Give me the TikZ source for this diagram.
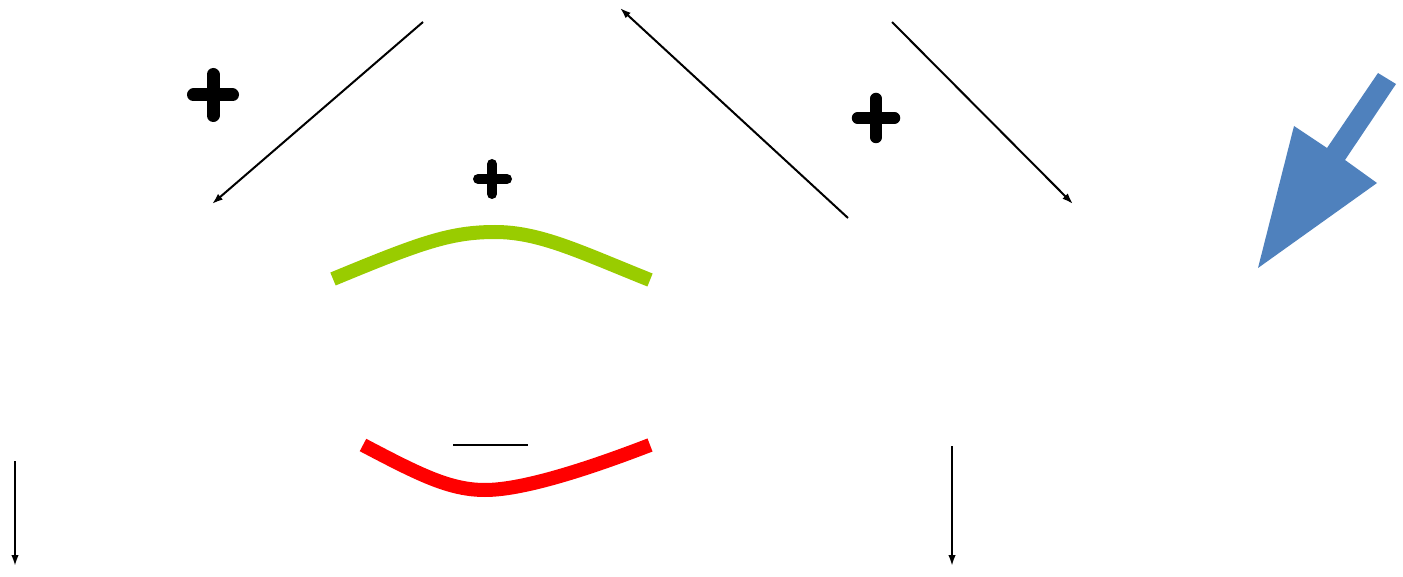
\documentclass[tikz,border=0pt]{standalone}
\usetikzlibrary{arrows.meta}
\definecolor{arrblue}{HTML}{4F81BD}
\definecolor{grn}{HTML}{99CC00}
\begin{document}
\begin{tikzpicture}[x=1pt,y=-1pt,
  conn/.style={line width=2pt,-{Latex[length=11pt,width=7.5pt]}},
  plusarm/.style={line width=#1,line cap=round},
  curveline/.style={line width=14pt}]
\useasboundingbox (0,0) rectangle (1403,577);
% plus signs
\draw[plusarm=13pt] (193.5,95) -- (232.5,95) (213,74.5) -- (213,115.5);
\draw[plusarm=11.5pt] (857.5,118) -- (894.5,118) (876,98.5) -- (876,137.5);
\draw[plusarm=10pt] (478,179) -- (507,179) (492,164) -- (492,194);
% connectors
\coordinate (a1s) at (423,22); \coordinate (a1e) at (212,204);
\coordinate (a2s) at (848,218); \coordinate (a2e) at (620,8);
\coordinate (a3s) at (892,22); \coordinate (a3e) at (1073,204);
\coordinate (a4s) at (15,461); \coordinate (a4e) at (15,566);
\coordinate (a5s) at (952,446); \coordinate (a5e) at (952,566);
\draw[conn] (a1s) -- (a1e);
\draw[conn] (a2s) -- (a2e);
\draw[conn] (a3s) -- (a3e);
\draw[conn] (a4s) -- (a4e);
\draw[conn] (a5s) -- (a5e);
% minus line
\coordinate (m1) at (453,445); \coordinate (m2) at (528,445);
\draw[line width=2.4pt] (m1) -- (m2);
% curves
\draw[curveline,grn] (333,279) .. controls (420,243) and (450,232) .. (495,232)
   .. controls (540,232) and (580,252) .. (650,280);
\draw[curveline,red] (363,445) .. controls (420,475) and (450,490) .. (485,490)
   .. controls (520,490) and (580,472) .. (650,445);
% blue block arrow
\fill[arrblue] (1378,73) -- (1396,84) -- (1345,160) -- (1377,183) -- (1258,268)
   -- (1294,126) -- (1327,148) -- cycle;
\end{tikzpicture}
\end{document}
